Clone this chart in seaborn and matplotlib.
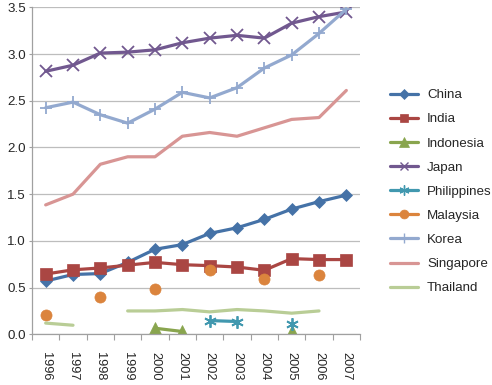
import numpy as np
import pandas as pd
import matplotlib
matplotlib.use("Agg")
import matplotlib.pyplot as plt
import seaborn as sns
from matplotlib.lines import Line2D

years = ["1996", "1997", "1998", "1999", "2000", "2001", "2002", "2003", "2004", "2005", "2006", "2007"]
nan = np.nan
china = [0.57, 0.64, 0.65, 0.77, 0.91, 0.96, 1.08, 1.14, 1.23, 1.34, 1.42, 1.49]
india = [0.645, 0.69, 0.71, 0.74, 0.77, 0.745, 0.735, 0.72, 0.685, 0.81, 0.80, 0.80]
indonesia = [nan, nan, nan, nan, 0.065, 0.03, nan, nan, nan, 0.03, nan, nan]
japan = [2.815, 2.88, 3.01, 3.02, 3.045, 3.12, 3.17, 3.20, 3.17, 3.33, 3.40, 3.45]
philippines = [nan, nan, nan, nan, nan, nan, 0.147, 0.137, nan, 0.11, nan, nan]
malaysia = [0.21, nan, 0.395, nan, 0.485, nan, 0.69, nan, 0.59, nan, 0.64, nan]
korea = [2.425, 2.485, 2.35, 2.26, 2.41, 2.59, 2.53, 2.64, 2.85, 2.99, 3.22, 3.48]
singapore = [1.385, 1.50, 1.82, 1.90, 1.90, 2.12, 2.16, 2.12, 2.21, 2.30, 2.32, 2.61]
thailand = [0.12, 0.097, nan, 0.25, 0.25, 0.265, 0.24, 0.265, 0.25, 0.226, 0.25, nan]

series = [
    ("China", china, "#4572A7", "D", 6),
    ("India", india, "#AA4643", "s", 8),
    ("Indonesia", indonesia, "#89A54E", "^", 9),
    ("Japan", japan, "#71588F", "x", 8),
    ("Philippines", philippines, "#4198AF", (6, 2, 0), 9),
    ("Malaysia", malaysia, "#DB843D", "o", 8),
    ("Korea", korea, "#93A9CF", "+", 9),
    ("Singapore", singapore, "#D89594", None, 0),
    ("Thailand", thailand, "#B9CD96", None, 0),
]

sns.set_theme(style="white")
plt.rcParams["font.family"] = ["Liberation Sans", "DejaVu Sans"]

FS = 9.6

fig = plt.figure(figsize=(4.92, 3.85), dpi=100)
ax = fig.add_axes([32 / 492, 1 - 334.3 / 385, (360 - 32) / 492, (334.3 - 7.3) / 385])

pos = np.arange(len(years))
handles = []
for name, vals, color, marker, ms in series:
    v = np.array(vals, dtype=float)
    valid = ~np.isnan(v)
    seg_start = None
    segs = []
    for i in range(len(v) + 1):
        if i < len(v) and valid[i]:
            if seg_start is None:
                seg_start = i
        else:
            if seg_start is not None:
                segs.append((seg_start, i))
                seg_start = None
    thin = marker in ("x", "+") or isinstance(marker, tuple)
    for s, e in segs:
        df = pd.DataFrame({"x": pos[s:e], "y": v[s:e]})
        sns.lineplot(data=df, x="x", y="y", ax=ax, color=color, lw=2.3,
                     marker=marker if marker else None, markersize=ms,
                     markeredgecolor=color, markeredgewidth=1.3 if thin else 0.5,
                     estimator=None, sort=False, legend=False)
    handles.append(Line2D([0], [0], color=color, lw=2.3, marker=marker if marker else None,
                          markersize=ms * 0.8, markeredgecolor=color,
                          markeredgewidth=1.0 if thin else 0.5, label=name))

ax.set_xlim(-0.5, len(years) - 0.5)
ax.set_ylim(0, 3.5)
yt = np.arange(0, 3.51, 0.5)
ax.set_yticks(yt)
ax.set_yticklabels([f"{t:.1f}" for t in yt], fontsize=FS)
ax.set_xticks(pos)
ax.set_xticklabels(years, rotation=270, fontsize=9.2, va="top", ha="center")
ax.set_xticks(np.arange(-0.5, len(years), 1.0), minor=True)
ax.tick_params(axis="x", which="major", length=0, pad=13)
ax.tick_params(axis="x", which="minor", length=4.3, color="#A0A0A0", width=0.8, bottom=True, direction="out")
ax.tick_params(axis="y", which="major", length=2.5, color="#A0A0A0", width=0.8, pad=2, left=True, direction="out")
ax.set_xlabel("")
ax.set_ylabel("")
ax.yaxis.grid(True, color="#BDBDBD", lw=0.9)
ax.set_axisbelow(True)
for sp in ["top", "right"]:
    ax.spines[sp].set_visible(False)
for sp in ["left", "bottom"]:
    ax.spines[sp].set_color("#A0A0A0")
    ax.spines[sp].set_linewidth(0.9)

fs_px = FS * 100 / 72
fig.legend(handles=handles, loc="upper left", bbox_to_anchor=(390 / 492, 1 - 89 / 385),
           bbox_transform=fig.transFigure, frameon=False, fontsize=FS,
           handlelength=28 / fs_px, handletextpad=9 / fs_px, labelspacing=0.885,
           borderpad=0, borderaxespad=0)

fig.savefig("out.png", dpi=100)
